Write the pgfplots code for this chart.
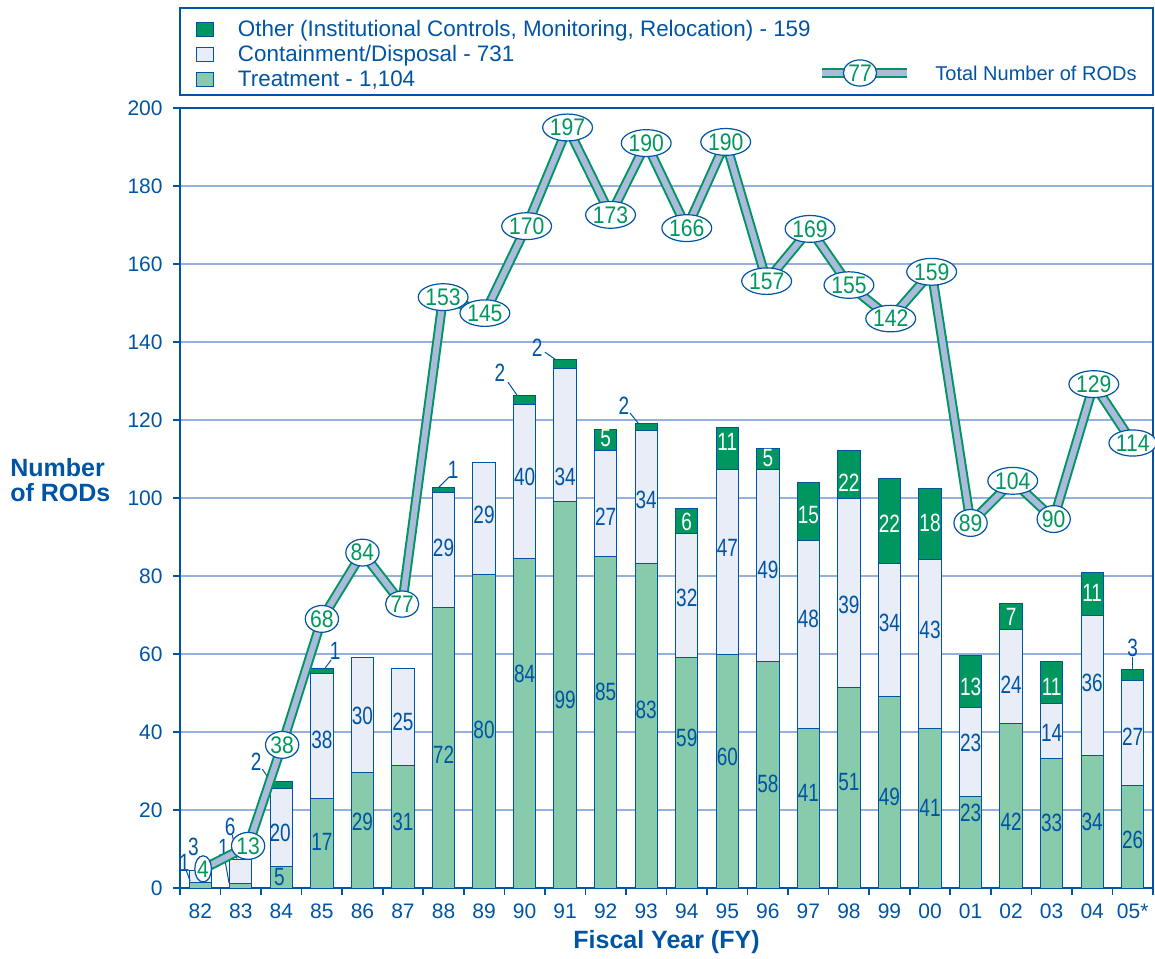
\documentclass[border=0pt]{standalone}
\usepackage{fontspec}
\setmainfont{Liberation Sans}
\newfontfamily\narrowfont[FakeStretch=0.76]{Liberation Sans}
\newfontfamily\semifont[FakeStretch=0.88]{Liberation Sans}
\usepackage{pgfplots}
\usepackage{pgfplotstable}
\pgfplotsset{compat=1.18}
\usetikzlibrary{patterns,shapes.geometric}
\definecolor{rodblue}{RGB}{0,84,164}
\definecolor{rodgreen}{RGB}{0,150,95}
\definecolor{gridblue}{RGB}{150,175,222}
\definecolor{lineblue}{RGB}{172,186,222}
\definecolor{dotblue}{RGB}{120,150,210}
\definecolor{stripegreen}{RGB}{60,170,120}
\definecolor{stripetint}{RGB}{135,202,172}
\definecolor{dottint}{RGB}{232,237,248}

\pgfdeclarepatternformonly{rodstripes}{\pgfpointorigin}{\pgfqpoint{1.4pt}{1.4pt}}{\pgfqpoint{1.4pt}{1.4pt}}{%
  \pgfpathrectangle{\pgfpointorigin}{\pgfqpoint{0.75pt}{1.4pt}}\pgfusepath{fill}}
\pgfdeclarepatternformonly{roddots}{\pgfpointorigin}{\pgfqpoint{4pt}{4pt}}{\pgfqpoint{4pt}{4pt}}{%
  \pgfpathcircle{\pgfqpoint{1pt}{1pt}}{0.6pt}\pgfpathcircle{\pgfqpoint{3pt}{3pt}}{0.6pt}\pgfusepath{fill}}

\pgfplotstableread{
x T C O
0 1.4 3 0
1 1.2 6 0
2 5.6 20 1.8
3 23 32 1.2
4 29.7 29.5 0
5 31.4 25 0
6 72 29.3 1.3
7 80.4 28.7 0
8 84.4 39.7 2.3
9 99 34.1 2.4
10 85 27.3 5.3
11 83.2 34.2 1.7
12 59.2 31.7 6.4
13 60 47.3 10.7
14 58 49.3 5.3
15 41 48 15
16 51.3 48.6 12.4
17 49 34.2 21.8
18 41 43.3 18.1
19 23.4 22.8 13.3
20 42.2 24.1 6.7
21 33.2 14.1 10.7
22 34.1 35.9 10.9
23 26.2 27 2.8
}\bars

\pgfplotstableread{
x y v
0.07 4.9 4
1.18 10.8 13
2.02 36.7 38
3.0 69 68
4.0 86 84
4.98 72.8 77
5.99 151.5 153
7.02 147.4 145
8.05 169.7 170
9.06 195 197
10.12 172.6 173
11.0 191 190
12.0 169.2 166
12.96 191.3 190
13.97 155.6 157
15.04 169 169
16.0 154.6 155
17.03 146 142
18.04 158 159
19.0 93.6 89
20.04 104.4 104
21.05 94.6 90
22.04 129.2 129
23.0 114.1 114
}\total

\tikzset{
  barlbl/.style={font=\narrowfont\fontsize{12.5}{12.5}\selectfont, text=rodblue, inner sep=0pt},
  wbarlbl/.style={font=\narrowfont\fontsize{12.5}{12.5}\selectfont, text=white, inner sep=0pt},
  totlbl/.style={ellipse, draw=rodblue, line width=0.6pt, fill=white, inner xsep=0pt, inner ysep=0.5pt,
    font=\semifont\fontsize{12}{12}\selectfont, text=rodgreen},
  leader/.style={rodblue, line width=0.5pt}
}
\newcommand{\bl}[3]{\node[barlbl] at (axis cs:#1,#2) {#3};}
\newcommand{\wl}[3]{\node[wbarlbl] at (axis cs:#1,#2) {#3};}

\begin{document}
\begin{tikzpicture}
\useasboundingbox (-90pt,-35pt) rectangle (487.5pt,444pt);
\begin{axis}[
  at={(0pt,0pt)}, anchor=south west,
  scale only axis, width=486.5pt, height=390pt,
  xmin=-0.5, xmax=23.5, ymin=0, ymax=200,
  clip=false,
  ybar stacked, bar width=0.55,
  axis line style={rodblue, line width=1pt},
  xtick={0,...,23},
  xticklabels={82,83,84,85,86,87,88,89,90,91,92,93,94,95,96,97,98,99,00,01,02,03,04,05*},
  minor xtick={-0.5,0.5,...,23.5},
  xtick pos=bottom, ytick pos=left,
  major x tick style={draw=none},
  minor x tick style={rodblue, line width=0.8pt},
  minor tick length=3.5pt,
  ytick={0,20,...,200},
  y tick style={rodblue, line width=0.8pt},
  major tick length=3.5pt,
  tick align=outside,
  ymajorgrids,
  major grid style={gridblue, line width=0.6pt},
  ticklabel style={font=\fontsize{10.5}{12}\selectfont, text=rodblue},
  /pgf/number format/assume math mode=true,
  yticklabel style={inner sep=0pt, xshift=-5pt},
  xticklabel style={inner sep=0pt, yshift=-4pt},
  ylabel={Number\\of RODs},
  xlabel={Fiscal Year (FY)},
  every axis y label/.style={at={(rel axis cs:0,0.523)}, anchor=west, xshift=-85pt, align=left, inner sep=0pt,
    font=\bfseries\fontsize{12.5}{12.5}\selectfont, text=rodblue},
  every axis x label/.style={at={(rel axis cs:0.5,0)}, anchor=center, yshift=-27pt,
    font=\bfseries\fontsize{12.5}{14}\selectfont, text=rodblue},
  reverse legend,
  legend cell align=left,
  legend image code/.code={\draw[#1] (0pt,-2.6pt) rectangle (8.3pt,4.7pt);},
  legend style={at={(rel axis cs:0,1)}, anchor=north west, xshift=8pt, yshift=43.9pt,
    draw=none, fill=none, inner sep=0pt, row sep=1.5pt,
    nodes={inner sep=0pt, text height=8pt, text depth=3pt},
    /tikz/every odd column/.append style={column sep=12pt},
    font=\fontsize{11.2}{13}\selectfont, text=rodblue},
]
\addplot[draw=rodblue, line width=0.5pt, fill=stripetint,
  postaction={pattern=rodstripes, pattern color=stripegreen},
  postaction={draw=rodblue, line width=0.5pt}]
  table[x=x,y=T]{\bars};
\addlegendentry{Treatment - 1,104}
\addplot[draw=rodblue, line width=0.5pt, fill=dottint,
  postaction={pattern=roddots, pattern color=dotblue},
  postaction={draw=rodblue, line width=0.5pt}]
  table[x=x,y=C]{\bars};
\addlegendentry{Containment/Disposal - 731}
\addplot[draw=rodblue, line width=0.5pt, fill=rodgreen]
  table[x=x,y=O]{\bars};
\addlegendentry{Other (Institutional Controls, Monitoring, Relocation) - 159}

% legend frame
\draw[rodblue, line width=1pt] ([yshift=6.5pt]rel axis cs:0,1) rectangle ([yshift=50pt]rel axis cs:1,1);
\end{axis}

\begin{axis}[
  at={(0pt,0pt)}, anchor=south west,
  scale only axis, width=486.5pt, height=390pt,
  xmin=-0.5, xmax=23.5, ymin=0, ymax=200,
  clip=false, hide axis,
]
% bar labels
\bl{-0.39}{6.4}{1} \draw[leader] (axis cs:-0.35,4.6) -- (axis cs:-0.25,1.8);
\bl{-0.17}{10.5}{3}
\bl{0.57}{10.3}{1} \draw[leader] (axis cs:0.59,8.2) -- (axis cs:0.71,1.3);
\bl{0.74}{15.6}{6} \draw[leader] (axis cs:0.79,13.6) -- (axis cs:0.91,7.2);
\bl{1.38}{32.3}{2} \draw[leader] (axis cs:1.53,30.5) -- (axis cs:1.73,27.4);
\bl{1.97}{14.1}{20} \bl{1.95}{2.8}{5}
\bl{3.33}{60.8}{1} \draw[leader] (axis cs:3.23,58.5) -- (axis cs:3.08,56.4);
\bl{3}{38}{38} \bl{3}{11.8}{17}
\bl{4}{44.1}{30} \bl{4}{16.9}{29}
\bl{5}{42.6}{25} \bl{5}{16.9}{31}
\bl{6.24}{107.2}{1} \draw[leader] (axis cs:6.14,105.4) -- (axis cs:5.87,102.6);
\bl{6}{87.1}{29} \bl{6}{34.1}{72}
\bl{7}{95.6}{29} \bl{7}{40.5}{80}
\bl{7.39}{132}{2} \draw[leader] (axis cs:7.59,129.7) -- (axis cs:7.81,126.4);
\bl{8}{105.4}{40} \bl{8}{55}{84}
\bl{8.31}{138.5}{2} \draw[leader] (axis cs:8.5,137.4) -- (axis cs:8.75,135.6);
\bl{9}{105.4}{34} \bl{9}{48.2}{99}
\wl{10}{115.4}{5} \bl{10}{95.2}{27} \bl{10}{50.3}{85}
\bl{10.45}{123.6}{2} \draw[leader] (axis cs:10.6,121.8) -- (axis cs:10.8,119.2);
\bl{11}{99.5}{34} \bl{11}{45.6}{83}
\wl{12}{93.9}{6} \bl{12}{74.3}{32} \bl{12}{38.4}{59}
\wl{13}{114.4}{11} \bl{13}{87.1}{47} \bl{13}{33.7}{60}
\wl{14}{110.3}{5} \bl{14}{81.5}{49} \bl{14}{26.8}{58}
\wl{15}{95.6}{15} \bl{15}{69.1}{48} \bl{15}{24.3}{41}
\wl{16}{103.8}{22} \bl{16}{72.6}{39} \bl{16}{27.3}{51}
\wl{17}{93.3}{22} \bl{17}{67.9}{34} \bl{17}{23.4}{49}
\wl{18}{93.6}{18} \bl{18}{66.2}{43} \bl{18}{20.5}{41}
\wl{19}{51.6}{13} \bl{19}{37.2}{23} \bl{19}{19.2}{23}
\wl{20}{69.6}{7} \bl{20}{52}{24} \bl{20}{17}{42}
\wl{21}{51.6}{11} \bl{21}{39.7}{14} \bl{21}{16.7}{33}
\wl{22}{75.6}{11} \bl{22}{52.5}{36} \bl{22}{16.9}{34}
\bl{23}{61.5}{3} \draw[leader] (axis cs:23,59.2) -- (axis cs:23,56.2);
\bl{23}{38.8}{27} \bl{23}{12.3}{26}
\end{axis}

\begin{axis}[
  at={(0pt,0pt)}, anchor=south west,
  scale only axis, width=486.5pt, height=390pt,
  xmin=-0.5, xmax=23.5, ymin=0, ymax=200,
  clip=false, hide axis,
]
\addplot[rodgreen, line width=5pt, line join=round] table[x=x,y=y]{\total};
\addplot[lineblue, line width=3pt, line join=round,
  nodes near coords, point meta=explicit symbolic,
  every node near coord/.style={totlbl, anchor=center}]
  table[x=x,y=y,meta=v]{\total};
% line legend
\draw[rodgreen, line width=5pt] ([xshift=321pt,yshift=17.5pt]rel axis cs:0,1) -- ([xshift=363.5pt,yshift=17.5pt]rel axis cs:0,1);
\draw[lineblue, line width=3pt] ([xshift=321pt,yshift=17.5pt]rel axis cs:0,1) -- ([xshift=363.5pt,yshift=17.5pt]rel axis cs:0,1);
\node[totlbl] at ([xshift=340pt,yshift=17.5pt]rel axis cs:0,1) {77};
\node[anchor=west, inner sep=0pt, font=\fontsize{10}{12}\selectfont, text=rodblue] at ([xshift=377.5pt,yshift=17.5pt]rel axis cs:0,1) {Total Number of RODs};
\end{axis}
\end{tikzpicture}
\end{document}
